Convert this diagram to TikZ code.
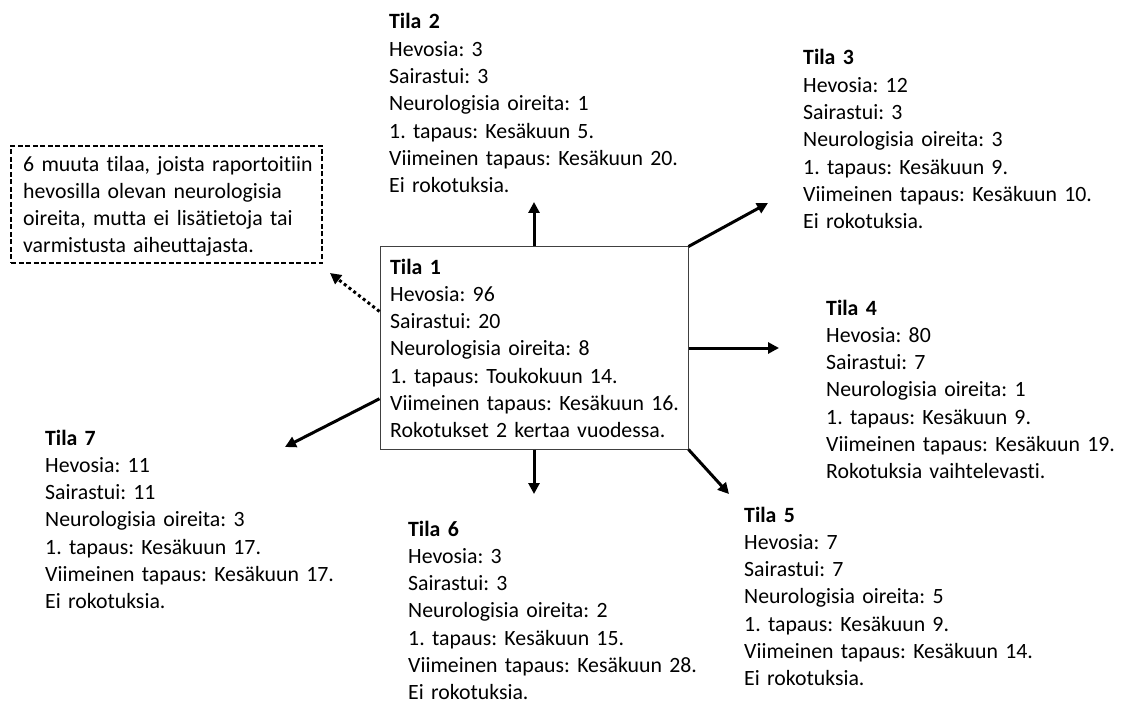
\documentclass[tikz,border=0pt]{standalone}
\usepackage{fontspec}
\setmainfont{Carlito}[Ligatures=NoCommon]
\usetikzlibrary{arrows.meta,calc}
\frenchspacing
\tikzset{
  info/.style={anchor=base west, text width=330pt, align=left, inner sep=0pt, font=\frenchspacing\fontsize{21.8}{27.3}\selectfont},
  notetext/.style={anchor=base west, text width=300pt, align=left, inner sep=0pt, font=\frenchspacing\fontsize{21.8}{26.7}\selectfont},
  conn/.style={line width=3pt, -{Triangle[length=11pt,width=11pt]}},
  dotconn/.style={line width=3pt, dash pattern=on 3pt off 3pt, -{Triangle[length=11pt,width=11pt]}},
  mainbox/.style={draw=black!75, line width=1pt, minimum width=308pt, minimum height=202pt, inner sep=0pt},
  notebox/.style={draw=black, line width=1.3pt, dash pattern=on 5pt off 2.5pt, minimum width=311pt, minimum height=117pt, inner sep=0pt}
}
\begin{document}
\begin{tikzpicture}[x=1pt,y=-1pt]
\useasboundingbox (0,0) rectangle (1121,703);
\node[mainbox] (t1) at (534,348) {};
\node[notebox] (note) at (166.5,204.5) {};
\node[info] (t1txt) at (390,274) {\textbf{Tila 1}\\Hevosia: 96\\Sairastui: 20\\Neurologisia oireita: 8\\1. tapaus: Toukokuun 14.\\Viimeinen tapaus: Kesäkuun 16.\\Rokotukset 2 kertaa vuodessa.};
\node[info] (t2) at (389,29) {\textbf{Tila 2}\\Hevosia: 3\\Sairastui: 3\\Neurologisia oireita: 1\\1. tapaus: Kesäkuun 5.\\Viimeinen tapaus: Kesäkuun 20.\\Ei rokotuksia.};
\node[info] (t3) at (803,65) {\textbf{Tila 3}\\Hevosia: 12\\Sairastui: 3\\Neurologisia oireita: 3\\1. tapaus: Kesäkuun 9.\\Viimeinen tapaus: Kesäkuun 10.\\Ei rokotuksia.};
\node[info] (t4) at (826,315) {\textbf{Tila 4}\\Hevosia: 80\\Sairastui: 7\\Neurologisia oireita: 1\\1. tapaus: Kesäkuun 9.\\Viimeinen tapaus: Kesäkuun 19.\\Rokotuksia vaihtelevasti.};
\node[info] (t5) at (744,522) {\textbf{Tila 5}\\Hevosia: 7\\Sairastui: 7\\Neurologisia oireita: 5\\1. tapaus: Kesäkuun 9.\\Viimeinen tapaus: Kesäkuun 14.\\Ei rokotuksia.};
\node[info] (t6) at (408,536) {\textbf{Tila 6}\\Hevosia: 3\\Sairastui: 3\\Neurologisia oireita: 2\\1. tapaus: Kesäkuun 15.\\Viimeinen tapaus: Kesäkuun 28.\\Ei rokotuksia.};
\node[info] (t7) at (45,445) {\textbf{Tila 7}\\Hevosia: 11\\Sairastui: 11\\Neurologisia oireita: 3\\1. tapaus: Kesäkuun 17.\\Viimeinen tapaus: Kesäkuun 17.\\Ei rokotuksia.};
\node[notetext] (notetxt) at (23,172) {6 muuta tilaa, joista raportoitiin\\hevosilla olevan neurologisia\\oireita, mutta ei lisätietoja tai\\varmistusta aiheuttajasta.};
\coordinate (e2) at (534,202);
\coordinate (e3) at (768,203);
\coordinate (e4) at (779,348);
\coordinate (e5) at (729,494);
\coordinate (e6) at (534,494);
\coordinate (e7) at (285,447);
\coordinate (enote) at (330,273);
\draw[conn] (t1.north) -- (e2);
\draw[conn] (t1.north east) -- (e3);
\draw[conn] (t1.east) -- (e4);
\draw[conn] (t1.south east) -- (e5);
\draw[conn] (t1.south) -- (e6);
\draw[conn] ($(t1.south west)!0.25!(t1.north west)$) -- (e7);
\draw[dotconn] ($(t1.south west)!0.68!(t1.north west)$) -- (enote);
\end{tikzpicture}
\end{document}
